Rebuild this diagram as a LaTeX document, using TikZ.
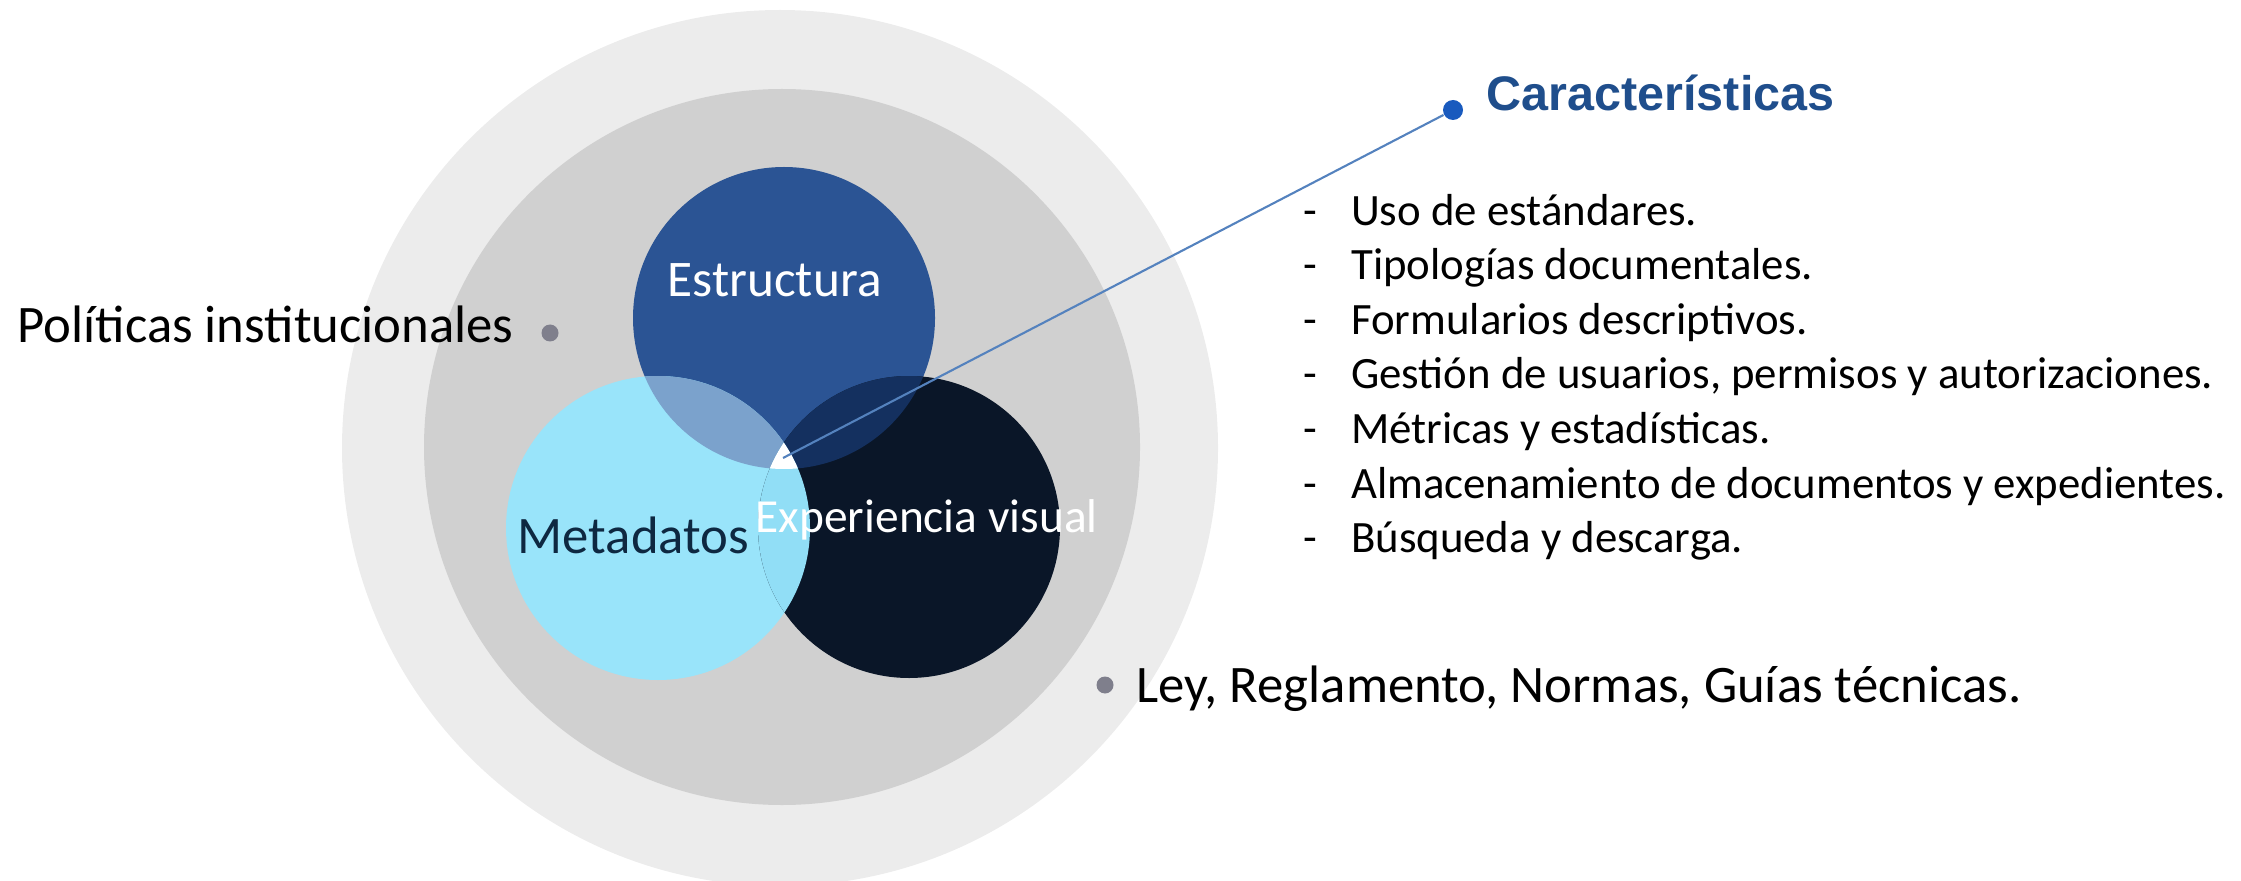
\documentclass[tikz,border=0pt]{standalone}
\usepackage{fontspec}
\setmainfont{Carlito}
\newfontfamily\headfont{Liberation Sans}
\definecolor{outergray}{RGB}{236,236,236}
\definecolor{innergray}{RGB}{208,208,208}
\definecolor{estblue}{RGB}{43,84,148}
\definecolor{metablue}{RGB}{153,228,250}
\definecolor{expnavy}{RGB}{10,22,40}
\definecolor{estmeta}{RGB}{123,162,204}
\definecolor{estexp}{RGB}{20,48,95}
\definecolor{metaexp}{RGB}{145,222,246}
\definecolor{metatext}{RGB}{14,40,65}
\definecolor{dotgray}{RGB}{127,127,140}
\definecolor{captext}{RGB}{31,78,140}
\definecolor{capdot}{RGB}{25,90,190}
\definecolor{linkblue}{RGB}{84,130,190}
\begin{document}
\begin{tikzpicture}[
  venn/.style={shape=circle, inner sep=0pt, minimum size=#1},
  bullet/.style={shape=circle, fill=dotgray, inner sep=0pt, minimum size=0.17cm},
  lbl/.style={anchor=base west, inner sep=0pt, font=\fontsize{15pt}{18pt}\selectfont},
  item/.style={anchor=base west, inner sep=0pt, font=\fontsize{12.75pt}{15pt}\selectfont}]
\useasboundingbox (0,0) rectangle (22.41,-8.81);
\node[venn=8.76cm, fill=outergray] (outer) at (7.80,-4.48) {};
\node[venn=7.16cm, fill=innergray] (inner) at (7.82,-4.47) {};
\node[venn=3.02cm, fill=estblue] (E) at (7.84,-3.18) {};
\node[venn=3.04cm, fill=metablue] (M) at (6.58,-5.28) {};
\node[venn=3.02cm, fill=expnavy] (X) at (9.09,-5.27) {};
\begin{scope}
\clip (E.center) circle (1.51);
\fill[estmeta] (M.center) circle (1.52);
\fill[estexp] (X.center) circle (1.51);
\end{scope}
\begin{scope}
\clip (M.center) circle (1.52);
\fill[metaexp] (X.center) circle (1.51);
\clip (E.center) circle (1.51);
\fill[white] (X.center) circle (1.51);
\end{scope}
\coordinate (core) at (7.83,-4.58);
\node[shape=circle, fill=capdot, inner sep=0pt, minimum size=0.2cm] (capdot) at (14.53,-1.10) {};
\path [-, line width=0.6pt, draw=linkblue] (capdot) edge (core);
\node[lbl, text=white, font=\fontsize{14.6pt}{18pt}\selectfont] (est) at (6.67,-2.96) {Estructura};
\node[lbl, text=metatext] (meta) at (5.17,-5.53) {Metadatos};
\node[lbl, text=white, font=\fontsize{13.5pt}{16pt}\selectfont] (exp) at (7.55,-5.32) {Experiencia visual};
\node[bullet] (poldot) at (5.50,-3.33) {};
\node[lbl] (pol) at (0.17,-3.43) {Políticas institucionales};
\node[bullet] (leydot) at (11.05,-6.85) {};
\node[lbl] (ley) at (11.36,-7.02) {Ley, Reglamento, Normas, Guías técnicas.};
\node[lbl, text=captext, font=\headfont\bfseries\fontsize{13.8pt}{16pt}\selectfont] (cap) at (14.86,-1.11) {Características};
\node[item] (i1) at (13.03,-2.26) {\makebox[0.475cm][l]{-}Uso de estándares.};
\node[item] (i2) at (13.03,-2.80) {\makebox[0.475cm][l]{-}Tipologías documentales.};
\node[item] (i3) at (13.03,-3.35) {\makebox[0.475cm][l]{-}Formularios descriptivos.};
\node[item] (i4) at (13.03,-3.89) {\makebox[0.475cm][l]{-}Gestión de usuarios, permisos y autorizaciones.};
\node[item] (i5) at (13.03,-4.43) {\makebox[0.475cm][l]{-}Métricas y estadísticas.};
\node[item] (i6) at (13.03,-4.98) {\makebox[0.475cm][l]{-}Almacenamiento de documentos y expedientes.};
\node[item] (i7) at (13.03,-5.52) {\makebox[0.475cm][l]{-}Búsqueda y descarga.};
\end{tikzpicture}
\end{document}
